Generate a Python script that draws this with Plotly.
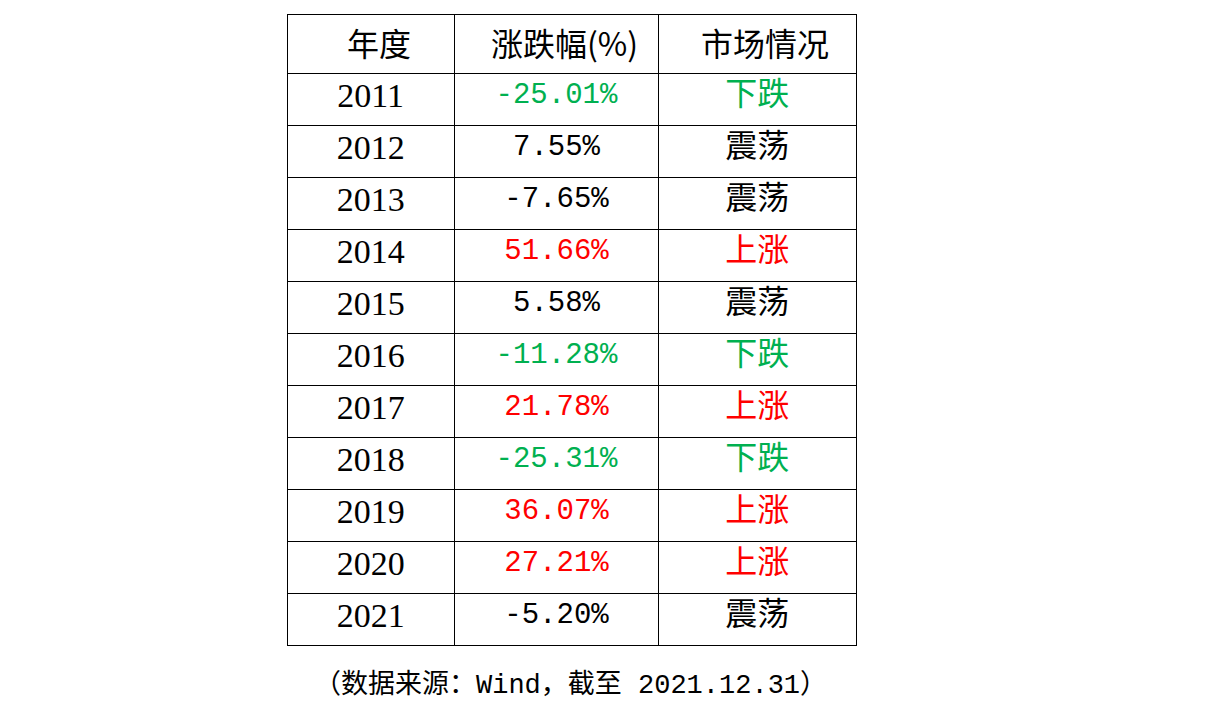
import plotly.graph_objects as go

# data
years = ["2011", "2012", "2013", "2014", "2015", "2016", "2017", "2018", "2019", "2020", "2021"]
changes = ["-25.01%", "7.55%", "-7.65%", "51.66%", "5.58%", "-11.28%",
           "21.78%", "-25.31%", "36.07%", "27.21%", "-5.20%"]
market = ["下跌", "震荡", "震荡", "上涨", "震荡", "下跌", "上涨", "下跌", "上涨", "上涨", "震荡"]
headers = ["年度", "涨跌幅(%)", "市场情况"]
note = "（数据来源：Wind，截至 2021.12.31）"

state_color = {"下跌": "#00B050", "上涨": "#FF0000", "震荡": "#000000"}
row_colors = [state_color[m] for m in market]

W, H = 1208, 713
col_w = [167, 204, 197]
left = 279   # plotly pads the table by ~8px
top = 6
right = left + sum(col_w) + 1

fig = go.Figure(go.Table(
    domain=dict(x=[left / W, right / W], y=[0, 1 - top / H]),
    columnwidth=col_w,
    header=dict(
        values=["", "", ""],
        height=59,
        line=dict(color="black", width=1),
        fill=dict(color="white"),
    ),
    cells=dict(
        values=[years, changes, market],
        height=52,
        align="center",
        line=dict(color="black", width=1),
        fill=dict(color="white"),
        font=dict(
            family=["Liberation Serif", "Liberation Mono, Noto Sans CJK SC", "Noto Sans CJK SC"],
            size=[34, 29, 32],
            color=[["black"] * len(years), row_colors, row_colors],
        ),
    ),
))

# header labels, centred vertically in the taller header row
cx = 287
for name, w in zip(headers, col_w):
    fig.add_annotation(
        text=name, x=(cx + w / 2) / W, y=1 - 34 / H, xref="paper", yref="paper",
        showarrow=False, xanchor="center", yanchor="middle",
        font=dict(family="Noto Sans CJK SC", size=32, color="black"),
    )
    cx += w

fig.add_annotation(
    text=note, x=562 / W, y=1 - 677 / H, xref="paper", yref="paper",
    showarrow=False, xanchor="center", yanchor="middle",
    font=dict(family="Liberation Mono, Noto Sans CJK SC", size=27, color="black"),
)

fig.update_layout(
    width=W, height=H,
    margin=dict(l=0, r=0, t=0, b=0),
    paper_bgcolor="white",
)

fig.write_html("out.html")
